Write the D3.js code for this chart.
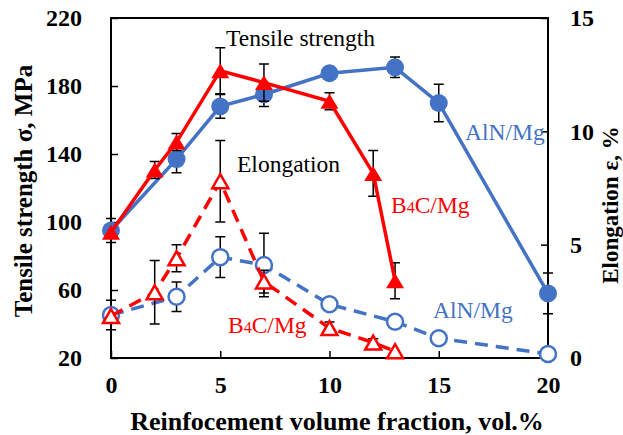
<!DOCTYPE html>
<html lang="en">
<head>
<meta charset="utf-8">
<title>Tensile strength and elongation</title>
<script src="https://d3js.org/d3.v7.min.js"></script>
<style>
  body { margin: 0; background: #fff; }
  svg text { font-family: "Liberation Serif", "Times New Roman", serif; }
</style>
</head>
<body>
<div id="chart"></div>
<script>
// data
var xAlN = [0, 3, 5, 7, 10, 13, 15, 20];
var alnStrength = [95, 137, 168, 175, 187.5, 191, 170, 58];
var alnStrengthErr = [7, 8, 7, 7, 0, 6, 11, 12];
var alnElong = [1.9, 2.7, 4.45, 4.1, 2.37, 1.6, 0.87, 0.18];
var alnElongErr = [0.65, 0.65, 0.9, 1.4, 0, 0, 0, 0];

var xB4C = [0, 2, 3, 5, 7, 10, 12, 13];
var b4cStrength = [94, 130.6, 147, 189, 182, 171, 128.6, 65.5];
var b4cStrengthErr = [0, 5, 5, 13.5, 11, 5, 13.5, 10.6];
var b4cElong = [1.85, 2.9, 4.4, 7.8, 3.37, 1.32, 0.68, 0.3];
var b4cElongErr = [0, 1.4, 0.6, 1.8, 0.5, 0.27, 0.17, 0];

var xTicks = [0, 5, 10, 15, 20];
var leftTicks = [20, 60, 100, 140, 180, 220];
var rightTicks = [0, 5, 10, 15];

var blue = "#4472C4", red = "#FF0000";

var width = 623, height = 435;
var box = {left: 111, right: 548, top: 18, bottom: 358};

var svg = d3.select("#chart").append("svg")
    .attr("width", width)
    .attr("height", height);

var x = d3.scaleLinear().domain([0, 20]).range([box.left, box.right]);
var yL = d3.scaleLinear().domain([20, 220]).range([box.bottom, box.top]);
var yR = d3.scaleLinear().domain([0, 15]).range([box.bottom, box.top]);

// axes with inward ticks
svg.append("g")
    .attr("transform", "translate(0," + box.bottom + ")")
    .call(d3.axisBottom(x).tickValues(xTicks).tickSize(-7).tickPadding(18))
    .call(styleAxis)
    .selectAll("text").attr("dy", "0.71em");

svg.append("g")
    .attr("transform", "translate(" + box.left + ",0)")
    .call(d3.axisLeft(yL).tickValues(leftTicks).tickSize(-7).tickPadding(29))
    .call(styleAxis);

svg.append("g")
    .attr("transform", "translate(" + box.right + ",0)")
    .call(d3.axisRight(yR).tickValues(rightTicks).tickSize(-7).tickPadding(22))
    .call(styleAxis);

function styleAxis(g) {
  g.select(".domain").remove();
  g.selectAll(".tick line").attr("stroke", "#000").attr("stroke-width", 1.5);
  g.selectAll(".tick text")
    .attr("fill", "#000")
    .style("font-size", "24px")
    .style("font-weight", "bold");
}

// plot frame
svg.append("rect")
    .attr("x", box.left).attr("y", box.top)
    .attr("width", box.right - box.left)
    .attr("height", box.bottom - box.top)
    .attr("fill", "none")
    .attr("stroke", "#000")
    .attr("stroke-width", 2);

// series
function drawSeries(xs, ys, errs, yScale, color, dashed, marker) {
  var pts = xs.map(function(d, i) { return {x: d, y: ys[i], e: errs[i]}; });
  var g = svg.append("g");

  g.selectAll(".err")
    .data(pts.filter(function(d) { return d.e > 0; }))
    .enter().append("path")
      .attr("d", function(d) {
        var cx = x(d.x), t = yScale(d.y + d.e), b = yScale(d.y - d.e);
        return "M" + cx + "," + t + "V" + b +
               "M" + (cx - 5) + "," + t + "H" + (cx + 5) +
               "M" + (cx - 5) + "," + b + "H" + (cx + 5);
      })
      .attr("stroke", "#000")
      .attr("stroke-width", 1.5)
      .attr("fill", "none");

  g.append("path")
    .datum(pts)
    .attr("d", d3.line().x(function(d) { return x(d.x); }).y(function(d) { return yScale(d.y); }))
    .attr("fill", "none")
    .attr("stroke", color)
    .attr("stroke-width", 3.5)
    .attr("stroke-dasharray", dashed ? "13,8" : null);

  var filled = !dashed;
  if (marker === "circle") {
    g.selectAll(".m")
      .data(pts)
      .enter().append("circle")
        .attr("cx", function(d) { return x(d.x); })
        .attr("cy", function(d) { return yScale(d.y); })
        .attr("r", filled ? 9 : 8)
        .attr("fill", filled ? color : "#fff")
        .attr("stroke", color)
        .attr("stroke-width", filled ? 0 : 2.5);
  } else {
    var w = filled ? 18 : 16, h = filled ? 15 : 14;
    g.selectAll(".m")
      .data(pts)
      .enter().append("path")
        .attr("d", function(d) {
          var cx = x(d.x), cy = yScale(d.y);
          return "M" + cx + "," + (cy - h / 2) +
                 "L" + (cx + w / 2) + "," + (cy + h / 2) +
                 "L" + (cx - w / 2) + "," + (cy + h / 2) + "Z";
        })
        .attr("fill", filled ? color : "#fff")
        .attr("stroke", color)
        .attr("stroke-width", filled ? 0 : 2.5)
        .attr("stroke-linejoin", "miter");
  }
}

drawSeries(xAlN, alnStrength, alnStrengthErr, yL, blue, false, "circle");
drawSeries(xAlN, alnElong, alnElongErr, yR, blue, true, "circle");
drawSeries(xB4C, b4cStrength, b4cStrengthErr, yL, red, false, "triangle");
drawSeries(xB4C, b4cElong, b4cElongErr, yR, red, true, "triangle");

// annotations
function label(tx, ty, str, color) {
  svg.append("text")
    .attr("x", tx).attr("y", ty)
    .attr("fill", color)
    .style("font-size", "23.5px")
    .text(str);
}
function b4cLabel(tx, ty) {
  var t = svg.append("text")
    .attr("x", tx).attr("y", ty)
    .attr("fill", red)
    .style("font-size", "23.5px");
  t.append("tspan").text("B");
  t.append("tspan").style("font-size", "16px").text("4");
  t.append("tspan").text("C/Mg");
}

label(226, 46, "Tensile strength", "#000");
label(237, 172, "Elongation", "#000");
label(465, 140, "AlN/Mg", blue);
label(433, 318, "AlN/Mg", blue);
b4cLabel(391, 213);
b4cLabel(228, 333);

// axis titles
svg.append("text")
    .attr("transform", "translate(32,191) rotate(-90)")
    .attr("text-anchor", "middle")
    .style("font-size", "25px")
    .style("font-weight", "bold")
    .text("Tensile strength σ, MPa");

svg.append("text")
    .attr("transform", "translate(618,205) rotate(-90)")
    .attr("text-anchor", "middle")
    .style("font-size", "23px")
    .style("font-weight", "bold")
    .text("Elongation ε, %");

svg.append("text")
    .attr("x", 337).attr("y", 430)
    .attr("text-anchor", "middle")
    .style("font-size", "26px")
    .style("font-weight", "bold")
    .text("Reinfocement volume fraction, vol.%");
</script>
</body>
</html>
